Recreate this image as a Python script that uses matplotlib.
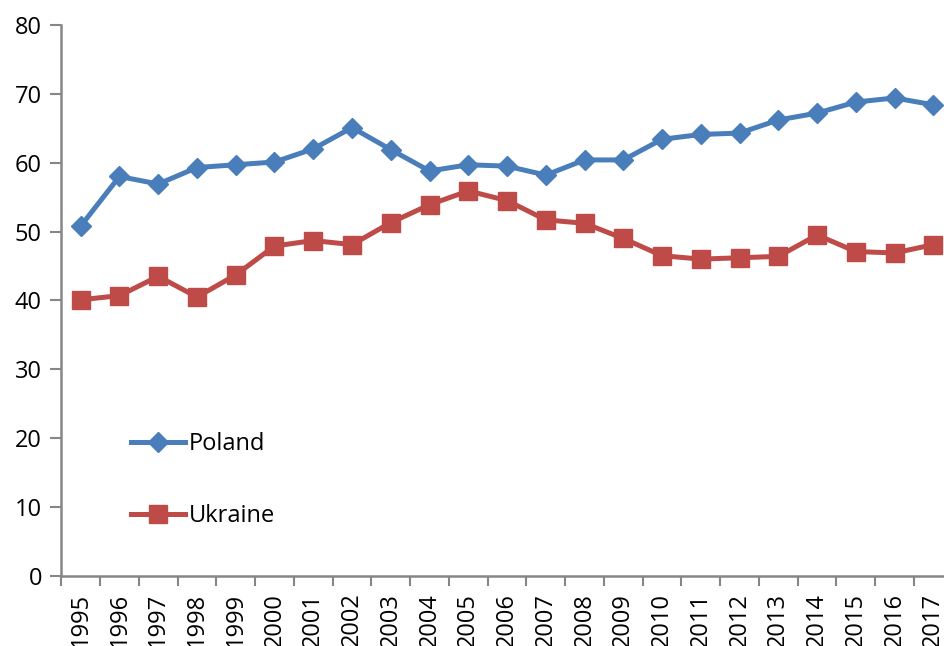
import matplotlib
matplotlib.use("Agg")
import matplotlib.pyplot as plt
import numpy as np

plt.rcParams['font.family'] = ['Open Sans', 'DejaVu Sans']

years = [str(y) for y in range(1995, 2018)]
poland = [50.8, 58.0, 56.9, 59.3, 59.7, 60.1, 62.0, 65.1, 61.9, 58.8, 59.7,
          59.5, 58.2, 60.4, 60.4, 63.4, 64.1, 64.3, 66.2, 67.2, 68.8, 69.4, 68.4]
ukraine = [40.1, 40.7, 43.5, 40.5, 43.7, 47.9, 48.7, 48.1, 51.3, 53.9, 55.9,
           54.5, 51.7, 51.2, 49.0, 46.5, 46.0, 46.2, 46.4, 49.5, 47.1, 46.9, 48.1]

blue = "#4A7EBB"
red = "#BE4B48"
axis_col = "#868686"

fig = plt.figure(figsize=(9.45, 6.46), dpi=100)
ax = fig.add_axes([0.0649, 0.1084, 0.9433, 0.853])

x = np.arange(len(years))
ax.plot(x, poland, color=blue, lw=3.6, marker="D", markersize=10, label="Poland", zorder=3)
ax.plot(x, ukraine, color=red, lw=3.6, marker="s", markersize=13.5, label="Ukraine", zorder=3)

ax.set_xlim(-0.5, len(years) - 0.5)
ax.set_ylim(0, 80)
ax.set_yticks(range(0, 81, 10))
ax.set_xticks(x)
ax.set_xticklabels(years, rotation=90)
ax.set_xticks(np.arange(-0.5, len(years), 1), minor=True)
ax.tick_params(axis="x", which="major", length=0, pad=12, labelsize=17)
ax.tick_params(axis="x", which="minor", length=7, width=1.5, color=axis_col)
ax.tick_params(axis="y", length=8, width=1.5, color=axis_col, labelsize=17, pad=6)

for s in ["top", "right"]:
    ax.spines[s].set_visible(False)
for s in ["left", "bottom"]:
    ax.spines[s].set_color(axis_col)
    ax.spines[s].set_linewidth(1.8)

ax.legend(loc="upper left", bbox_to_anchor=(0.065, 0.283), frameon=False, fontsize=17,
          handlelength=2.3, handletextpad=0.15, labelspacing=2.05, borderpad=0)

fig.savefig("out.png", dpi=100)
